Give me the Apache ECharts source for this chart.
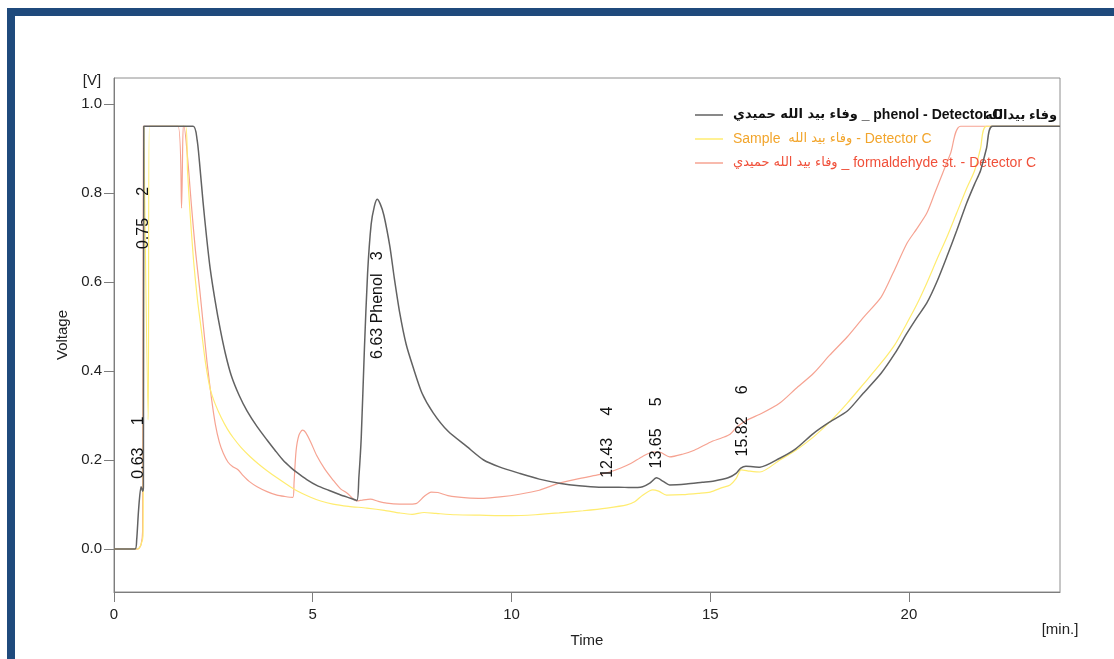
<!DOCTYPE html>
<html>
<head>
<meta charset="utf-8">
<title>Chromatogram - phenol / formaldehyde</title>
<script src="https://cdn.jsdelivr.net/npm/echarts@6.0.0/dist/echarts.min.js"></script>
<style>
  html, body { margin: 0; padding: 0; background: #fff; }
  #chart { width: 1114px; height: 659px; }
</style>
</head>
<body>
<div id="chart"></div>
<script>
// Time axis (min) and voltage (V)
const phenolT = [0, 0.53, 0.57, 0.62, 0.68, 0.72, 0.74, 0.75, 1.99, 2.09, 2.15, 2.24, 2.33, 2.42, 2.54, 2.67, 2.8, 2.95,
  3.15, 3.35, 3.6, 3.85, 4.05, 4.25, 4.45, 4.6, 4.85, 5.1, 5.4, 5.69, 5.95, 6.11, 6.16, 6.22, 6.3, 6.38, 6.47, 6.55,
  6.62, 6.7, 6.79, 6.94, 7.05, 7.19, 7.35, 7.52, 7.75, 8.03, 8.4, 8.88, 9.3, 9.71, 10.2, 10.7, 11.2, 11.7, 12.2, 12.7,
  13.0, 13.3, 13.48, 13.65, 13.82, 13.98, 14.4, 14.8, 15.1, 15.45, 15.65, 15.77, 15.9, 16.25, 16.75, 17.15, 17.6, 18.0,
  18.45, 18.85, 19.3, 19.65, 19.95, 20.2, 20.45, 20.7, 20.95, 21.2, 21.45, 21.65, 21.8, 21.95, 22.1, 23.8];
const phenolV = [0, 0, 0.02, 0.09, 0.14, 0.13, 0.14, 0.95, 0.95, 0.92, 0.87, 0.78, 0.70, 0.63, 0.56, 0.495, 0.44, 0.39,
  0.345, 0.31, 0.275, 0.245, 0.222, 0.2, 0.183, 0.172, 0.156, 0.143, 0.132, 0.122, 0.114, 0.109, 0.16, 0.25, 0.45, 0.62, 0.73, 0.77,
  0.786, 0.775, 0.75, 0.68, 0.61, 0.53, 0.46, 0.41, 0.35, 0.306, 0.265, 0.23, 0.2, 0.184, 0.17, 0.157, 0.148, 0.142, 0.139, 0.139,
  0.138, 0.14, 0.148, 0.16, 0.152, 0.144, 0.146, 0.15, 0.153, 0.16, 0.17, 0.182, 0.186, 0.184, 0.204, 0.225, 0.26, 0.285,
  0.31, 0.35, 0.395, 0.44, 0.485, 0.52, 0.553, 0.6, 0.656, 0.715, 0.777, 0.82, 0.85, 0.9, 0.95, 0.95];

const sampleT = [0, 0.6, 0.68, 0.73, 0.75, 0.76, 0.86, 0.89, 1.8, 1.85, 1.91, 2.0, 2.1, 2.2, 2.3, 2.42, 2.55, 2.7, 2.85, 3.0,
  3.2, 3.42, 3.65, 3.85, 4.1, 4.35, 4.6, 4.93, 5.2, 5.51, 5.9, 6.36, 6.8, 7.19, 7.5, 7.8, 8.1, 8.6, 9.2, 10.0,
  10.6, 11.2, 11.8, 12.4, 12.9, 13.1, 13.3, 13.55, 13.7, 13.9, 14.3, 14.7, 15.0, 15.3, 15.5, 15.65, 15.78, 16.0, 16.25, 16.75,
  17.2, 17.6, 18.0, 18.45, 18.85, 19.3, 19.65, 19.95, 20.2, 20.45, 20.7, 20.95, 21.2, 21.45, 21.65, 21.8, 21.95, 23.8];
const sampleV = [0, 0, 0.01, 0.03, 0.95, 0.95, 0.29, 0.95, 0.95, 0.85, 0.76, 0.65, 0.56, 0.49, 0.42, 0.36, 0.325, 0.295, 0.27, 0.25,
  0.228, 0.208, 0.19, 0.176, 0.16, 0.145, 0.131, 0.117, 0.108, 0.101, 0.096, 0.092, 0.087, 0.081, 0.078, 0.082, 0.08, 0.077, 0.076, 0.075,
  0.077, 0.081, 0.086, 0.092, 0.099, 0.106, 0.121, 0.133, 0.13, 0.121, 0.122, 0.125, 0.128, 0.138, 0.144, 0.158, 0.178, 0.175, 0.173, 0.2,
  0.225, 0.252, 0.285, 0.328, 0.37, 0.418, 0.46, 0.508, 0.55, 0.598, 0.65, 0.70, 0.755, 0.81, 0.85, 0.9, 0.95, 0.95];

const formT = [0, 0.6, 0.68, 0.72, 0.74, 1.61, 1.7, 1.74, 1.76, 1.85, 1.95, 2.05, 2.16, 2.25, 2.34, 2.45, 2.55, 2.65, 2.75, 2.87,
  2.99, 3.12, 3.25, 3.4, 3.6, 3.85, 4.1, 4.3, 4.5, 4.53, 4.58, 4.65, 4.74, 4.82, 4.95, 5.1, 5.3, 5.51, 5.7, 5.86,
  6.11, 6.25, 6.45, 6.65, 6.86, 7.19, 7.45, 7.62, 7.8, 7.98, 8.15, 8.4, 8.88, 9.3, 9.71, 10.2, 10.7, 11.2, 11.8, 12.2,
  12.47, 12.75, 13.0, 13.3, 13.56, 13.75, 13.98, 14.3, 14.6, 15.0, 15.3, 15.5, 15.67, 15.93, 16.3, 16.75, 17.15, 17.6, 18.0, 18.45,
  18.85, 19.3, 19.6, 19.95, 20.2, 20.45, 20.65, 20.85, 21.05, 21.3, 23.8];
const formV = [0, 0, 0.01, 0.04, 0.95, 0.95, 0.766, 0.95, 0.95, 0.88, 0.77, 0.67, 0.58, 0.5, 0.42, 0.34, 0.28, 0.24, 0.215, 0.195,
  0.185, 0.178, 0.165, 0.152, 0.14, 0.129, 0.121, 0.118, 0.116, 0.15, 0.22, 0.255, 0.267, 0.262, 0.24, 0.21, 0.18, 0.155, 0.135, 0.126,
  0.108, 0.11, 0.112, 0.107, 0.103, 0.101, 0.101, 0.103, 0.118, 0.128, 0.127, 0.12, 0.115, 0.114, 0.117, 0.123, 0.132, 0.148, 0.16, 0.167,
  0.173, 0.182, 0.192, 0.208, 0.218, 0.217, 0.207, 0.213, 0.222, 0.24, 0.25, 0.258, 0.274, 0.29, 0.305, 0.328, 0.36, 0.395, 0.435, 0.477,
  0.52, 0.566, 0.62, 0.687, 0.72, 0.755, 0.8, 0.845, 0.89, 0.95, 0.95];

// peak annotations (retention time, name, voltage level where the label sits)
const peakTimes = [0.63, 0.75, 6.63, 12.43, 13.65, 15.82];
const peakNames = ['', '', 'Phenol', '', '', ''];
const peakLabelV = [0.228, 0.744, 0.548, 0.240, 0.261, 0.288];

const xTicks = [0, 5, 10, 15, 20];
const yTicks = [0, 0.2, 0.4, 0.6, 0.8, 1.0];

const seriesNames = [
  'وفاء بيد الله حميدي _ phenol - Detector C',
  'Sample  وفاء بيد الله - Detector C',
  'وفاء بيد الله حميدي _ formaldehyde st. - Detector C'
];

const zip = (xs, ys) => xs.map((x, i) => [x, ys[i]]);

const sans = "'Liberation Sans', 'DejaVu Sans', sans-serif";

const peakLabels = peakTimes.map((t, i) => ({
  name: t.toFixed(2) + (peakNames[i] ? ' ' + peakNames[i] + '   ' : '     ') + (i + 1),
  coord: [t, peakLabelV[i]]
}));

// wrap the arabic runs so they can be set a bit tighter than the latin text
const legendFormatter = name =>
  name.replace(/[\u0600-\u06FF][\u0600-\u06FF ]*[\u0600-\u06FF]/g, m => '{ar|' + m + '}');

const chart = echarts.init(document.getElementById('chart'));

chart.setOption({
  animation: false,
  backgroundColor: '#fff',
  grid: {
    left: 114, top: 78, width: 946, height: 514,
    show: true, borderColor: '#8e8e8e', borderWidth: 1,
    outerBoundsMode: 'none'
  },
  xAxis: {
    type: 'value',
    min: 0, max: 23.8,
    name: 'Time', nameLocation: 'middle', nameGap: 41,
    nameTextStyle: { fontFamily: sans, fontSize: 15, color: '#222' },
    axisLine: { show: true, onZero: false, lineStyle: { color: '#7d7d7d' } },
    axisTick: { show: true, length: 10, customValues: xTicks, lineStyle: { color: '#7d7d7d' } },
    axisLabel: { customValues: xTicks, margin: 15, fontFamily: sans, fontSize: 15, color: '#222' },
    splitLine: { show: false }
  },
  yAxis: {
    type: 'value',
    min: -0.0966, max: 1.0584,
    name: 'Voltage', nameLocation: 'middle', nameGap: 37,
    nameTextStyle: { fontFamily: sans, fontSize: 15, color: '#222' },
    axisLine: { show: true, onZero: false, lineStyle: { color: '#7d7d7d' } },
    axisTick: { show: true, length: 10, customValues: yTicks, lineStyle: { color: '#7d7d7d' } },
    axisLabel: {
      customValues: yTicks, margin: 12, fontFamily: sans, fontSize: 15, color: '#222',
      formatter: v => v.toFixed(1)
    },
    splitLine: { show: false }
  },
  legend: {
    orient: 'vertical',
    left: 695, top: 107, padding: 0,
    icon: 'rect',
    itemWidth: 28, itemHeight: 1.5, itemGap: 8,
    formatter: legendFormatter,
    textStyle: {
      fontFamily: sans, fontSize: 14, lineHeight: 16, padding: [0, 0, 0, 5],
      rich: { ar: { fontSize: 13, lineHeight: 16, fontFamily: "'DejaVu Sans', sans-serif" } }
    },
    data: [
      { name: seriesNames[0], textStyle: { color: '#111', fontWeight: 'bold' } },
      { name: seriesNames[1], textStyle: { color: '#f2a52c' } },
      { name: seriesNames[2], textStyle: { color: '#f0503a' } }
    ]
  },
  graphic: [
    { type: 'rect', shape: { x: 7, y: 8, width: 1107, height: 8 }, style: { fill: '#1f4a7c' } },
    { type: 'rect', shape: { x: 7, y: 8, width: 8, height: 651 }, style: { fill: '#1f4a7c' } },
    { type: 'text', x: 92, y: 81, style: { text: '[V]', font: '15px ' + sans, fill: '#222', align: 'center', verticalAlign: 'middle' } },
    { type: 'text', x: 1060, y: 630, style: { text: '[min.]', font: '15px ' + sans, fill: '#222', align: 'center', verticalAlign: 'middle' } },
    { type: 'text', x: 1057, y: 115, z: 200, style: { text: 'وفاء بيدالله', font: 'bold 13px ' + sans, fill: '#111', align: 'right', verticalAlign: 'middle' } }
  ],
  series: [
    {
      name: seriesNames[2], type: 'line', data: zip(formT, formV),
      symbol: 'none', smooth: 0.25, z: 2,
      lineStyle: { color: '#f6a392', width: 1.2 }, itemStyle: { color: '#f6a392' }
    },
    {
      name: seriesNames[1], type: 'line', data: zip(sampleT, sampleV),
      symbol: 'none', smooth: 0.25, z: 3,
      lineStyle: { color: '#ffec70', width: 1.2 }, itemStyle: { color: '#ffec70' }
    },
    {
      name: seriesNames[0], type: 'line', data: zip(phenolT, phenolV),
      symbol: 'none', smooth: 0.25, z: 4,
      lineStyle: { color: '#626262', width: 1.5 }, itemStyle: { color: '#626262' },
      markPoint: {
        symbol: 'circle', symbolSize: 1,
        itemStyle: { color: 'rgba(0,0,0,0)' },
        label: {
          show: true, position: 'inside', rotate: 90,
          formatter: '{b}', fontFamily: sans, fontSize: 16, color: '#111'
        },
        data: peakLabels
      }
    }
  ]
});
</script>
</body>
</html>
